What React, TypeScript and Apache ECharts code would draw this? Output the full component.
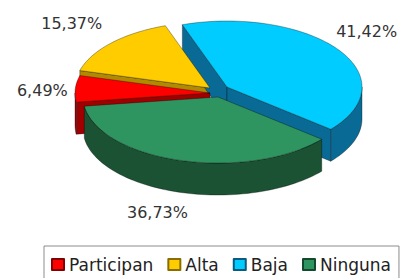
import React, { useEffect, useRef } from "react";
import * as echarts from "echarts";

// ---- data ----
const categories = ["Participan", "Alta", "Baja", "Ninguna"];
const values = [6.49, 15.37, 41.42, 36.73];

// ---- styles ----
const topColors = ["#FF0000", "#FFCC00", "#00CCFF", "#2F9560"];
const sideColors = ["#A00000", "#B08A00", "#0A6A96", "#1A5233"];
const legendBorders = ["#800000", "#8a6d00", "#0a5a80", "#144a2c"];
// explode offsets of each slice (pixels)
const explodeOffsets = [
  [0, 0],
  [0, -5],
  [17, -6],
  [8, 4],
];
// small nudges of each percentage label (pixels)
const labelNudges = [
  [2, 4],
  [-14, 0],
  [0, -2],
  [-14, -7],
];

const CX = 210;
const CY = 93;
const RX = 135;
const RY = 66;
const DEPTH = 32;
const START = 262; // degrees clockwise from 12 o'clock
const LABEL_DX = 35;
const LABEL_DY = 28;
const STROKE = "rgba(0,0,0,0.55)";

const total = values.reduce((a, b) => a + b, 0);
const starts: number[] = [];
{
  let acc = START;
  values.forEach((v) => {
    starts.push(acc);
    acc += (v / total) * 360;
  });
}
const rad = (d: number) => (d * Math.PI) / 180;

function geom(i: number, v: number) {
  const a0 = starts[i];
  const a1 = a0 + (v / total) * 360;
  const mid = (a0 + a1) / 2;
  const cx = CX + explodeOffsets[i][0];
  const cy = CY + explodeOffsets[i][1];
  return { a0, a1, mid, cx, cy };
}
function pt(g: any, a: number, dz = 0): number[] {
  return [g.cx + RX * Math.sin(rad(a)), g.cy - RY * Math.cos(rad(a)) + dz];
}
function arc(g: any, lo: number, hi: number, dz = 0): number[][] {
  const out: number[][] = [];
  const n = Math.max(2, Math.ceil((hi - lo) / 2));
  for (let k = 0; k <= n; k++) out.push(pt(g, lo + ((hi - lo) * k) / n, dz));
  return out;
}
function depthOrder(i: number, v: number) {
  const g = geom(i, v);
  return g.cy - RY * 0.5 * Math.cos(rad(g.mid));
}

function renderWalls(params: any, api: any) {
  const i = params.dataIndex;
  const v = api.value(0);
  const g = geom(i, v);
  const order = values
    .map((val, j) => ({ j, y: depthOrder(j, val) }))
    .sort((a, b) => a.y - b.y)
    .findIndex((o) => o.j === i);
  const z2 = order * 10;
  const children: any[] = [];
  const fill = sideColors[i];
  const apex = [g.cx, g.cy];
  const apexB = [g.cx, g.cy + DEPTH];
  if (Math.sin(rad(g.a0)) < 0) {
    const c = pt(g, g.a0);
    const cb = pt(g, g.a0, DEPTH);
    children.push({
      type: "polygon",
      z2,
      shape: { points: [apex, c, cb, apexB] },
      style: { fill, stroke: STROKE, lineWidth: 0.6 },
    });
  }
  if (Math.sin(rad(g.a1)) > 0) {
    const c = pt(g, g.a1);
    const cb = pt(g, g.a1, DEPTH);
    children.push({
      type: "polygon",
      z2,
      shape: { points: [apex, c, cb, apexB] },
      style: { fill, stroke: STROKE, lineWidth: 0.6 },
    });
  }
  for (const base of [-360, 0, 360, 720]) {
    const lo = Math.max(g.a0, base + 90);
    const hi = Math.min(g.a1, base + 270);
    if (hi > lo) {
      const top = arc(g, lo, hi);
      const bot = arc(g, lo, hi, DEPTH).reverse();
      children.push({
        type: "polygon",
        z2: z2 + 1,
        shape: { points: top.concat(bot) },
        style: { fill, stroke: STROKE, lineWidth: 0.6 },
      });
    }
  }
  return { type: "group", children };
}

function renderTops(params: any, api: any) {
  const i = params.dataIndex;
  const v = api.value(0);
  const g = geom(i, v);
  const pts = [[g.cx, g.cy]].concat(arc(g, g.a0, g.a1));
  const s = Math.sin(rad(g.mid));
  const c = Math.cos(rad(g.mid));
  const lx = g.cx + (RX + LABEL_DX) * s + labelNudges[i][0];
  const ly =
    g.cy - (RY + LABEL_DY) * c + (-c > 0 ? DEPTH : 0) + labelNudges[i][1];
  const text = v.toFixed(2).replace(".", ",") + "%";
  return {
    type: "group",
    children: [
      {
        type: "polygon",
        shape: { points: pts },
        style: { fill: topColors[i], stroke: STROKE, lineWidth: 0.6 },
      },
      {
        type: "text",
        x: lx,
        y: ly,
        style: {
          text,
          fill: "#333",
          font: "16px 'DejaVu Sans'",
          align: "center",
          verticalAlign: "middle",
        },
      },
    ],
  };
}

export default function App() {
  const ref = useRef<HTMLDivElement>(null);
  useEffect(() => {
    if (!ref.current) return;
    const chart = echarts.init(ref.current, undefined, { renderer: "svg" });
    chart.setOption({
      animation: false,
      backgroundColor: "#ffffff",
      legend: {
        data: categories,
        left: 44,
        top: 246,
        orient: "horizontal",
        icon: "rect",
        itemWidth: 12,
        itemHeight: 11,
        itemGap: 14,
        padding: [10, 8, 14, 7],
        borderColor: "#8c8c8c",
        borderWidth: 1,
        backgroundColor: "#ffffff",
        selectedMode: false,
        textStyle: {
          fontFamily: "DejaVu Sans",
          fontSize: 17,
          color: "#222",
        },
      },
      series: [
        {
          type: "pie",
          center: [-300, -300],
          radius: 5,
          silent: true,
          label: { show: false },
          labelLine: { show: false },
          data: categories.map((name, i) => ({
            name,
            value: values[i],
            itemStyle: {
              color: topColors[i],
              borderColor: legendBorders[i],
              borderWidth: 1,
            },
          })),
        },
        {
          type: "custom",
          name: "walls",
          coordinateSystem: "none",
          z: 2,
          silent: true,
          renderItem: renderWalls,
          data: values,
        },
        {
          type: "custom",
          name: "tops",
          coordinateSystem: "none",
          z: 3,
          silent: true,
          renderItem: renderTops,
          data: values,
        },
      ],
    });
    return () => chart.dispose();
  }, []);
  return (
    <div
      ref={ref}
      style={{ position: "absolute", left: 0, top: 0, width: 406, height: 278 }}
    />
  );
}
